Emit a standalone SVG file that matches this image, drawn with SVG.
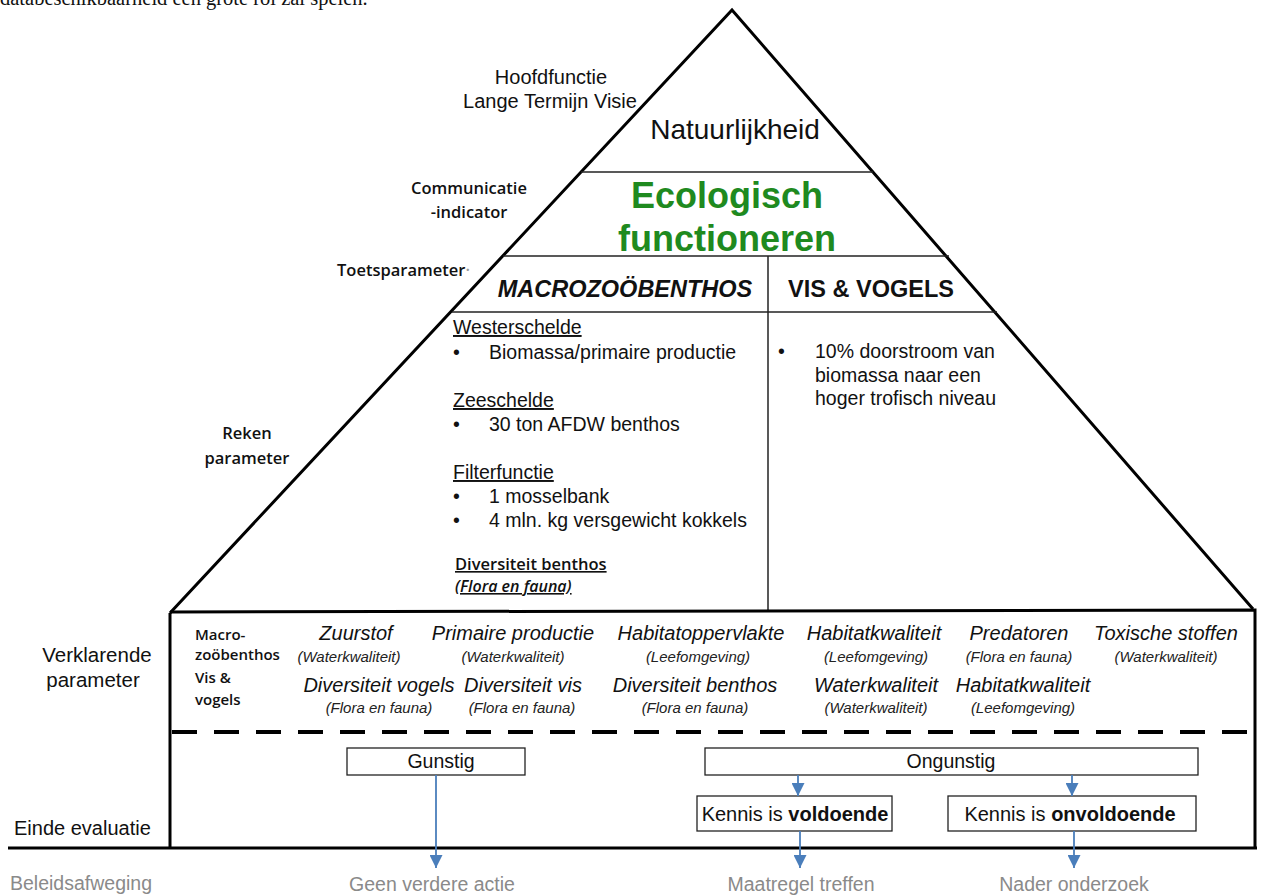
<svg xmlns="http://www.w3.org/2000/svg" width="1262" height="895" viewBox="0 0 1262 895">
<style>
.s{font-family:"Liberation Sans",Arial,sans-serif;fill:#111}
.c{font-family:"Open Sans","Liberation Sans",sans-serif;font-weight:600;fill:#111}
.m{text-anchor:middle}
.it{font-style:italic}
.b{font-size:19.5px}
.sub{font-family:"Liberation Sans",Arial,sans-serif;font-style:italic;font-size:15px;fill:#222;text-anchor:middle}
.par{font-family:"Liberation Sans",Arial,sans-serif;font-style:italic;font-size:20px;fill:#111;text-anchor:middle}
.g{font-family:"Liberation Sans",Arial,sans-serif;font-size:19.5px;fill:#8a8a8a;text-anchor:middle}
.out{fill:none;stroke:#000;stroke-width:3;stroke-linejoin:miter}
.in{fill:none;stroke:#222;stroke-width:1.5}
.bx{fill:#fff;stroke:#222;stroke-width:1.3}
.ar{stroke:#4a7ebb;stroke-width:1.8;fill:none}
</style>
<defs>
<marker id="ad" markerWidth="13" markerHeight="13" refX="6.5" refY="13" orient="0" markerUnits="userSpaceOnUse" viewBox="0 0 13 13">
<path d="M0,0 L13,0 L6.5,13 z" fill="#4a7ebb"/>
</marker>
</defs>
<rect width="1262" height="895" fill="#fff"/>
<text x="0" y="5" style="font-family:'Liberation Serif','Times New Roman',serif;font-size:20.5px;fill:#111">databeschikbaarheid een grote rol zal spelen.</text>

<g id="pyramid">
<path class="out" d="M170,613 L732,10 L1253,609"/>
<line class="in" x1="581" y1="172" x2="873" y2="172"/>
<line class="in" x1="503" y1="256" x2="949" y2="256"/>
<line class="in" x1="452" y1="312" x2="997" y2="312"/>
<line class="in" x1="768" y1="256" x2="768" y2="611"/>
</g>

<g id="labels-left">
<text class="s m" x="551" y="84" font-size="20" fill="#333">Hoofdfunctie</text>
<text class="s m" x="550" y="108" font-size="20" fill="#333">Lange Termijn Visie</text>
<text class="c m" x="469" y="194" font-size="16.5">Communicatie</text>
<text class="c m" x="469" y="218" font-size="16.5">-indicator</text>
<text class="c" x="337" y="276" font-size="16.5">Toetsparameter<tspan fill="#999">·</tspan></text>
<text class="c m" x="247" y="439" font-size="16.5">Reken</text>
<text class="c m" x="247" y="464" font-size="16.5">parameter</text>
<text class="s m" x="97" y="662" font-size="20.5">Verklarende</text>
<text class="s m" x="93" y="687" font-size="20.5">parameter</text>
<text class="s" x="14" y="835" font-size="20">Einde evaluatie</text>
<text class="g" x="10" y="890" style="text-anchor:start">Beleidsafweging</text>
</g>

<g id="natuurlijkheid">
<text class="s m" x="735" y="139" font-size="28">Natuurlijkheid</text>
</g>
<g id="ecologisch">
<text class="s m" x="727" y="208" font-size="36" font-weight="bold" style="fill:#1f8a1f">Ecologisch</text>
<text class="s m" x="727" y="251" font-size="36" font-weight="bold" style="fill:#1f8a1f">functioneren</text>
</g>
<g id="macrozoobenthos">
<text class="s m it" x="625" y="297" font-size="23.5" font-weight="bold">MACROZOÖBENTHOS</text>
<text class="s b" x="453" y="334" text-decoration="underline">Westerschelde</text>
<text class="s b" x="453" y="359">•</text>
<text class="s b" x="489" y="359">Biomassa/primaire productie</text>
<text class="s b" x="453" y="407" text-decoration="underline">Zeeschelde</text>
<text class="s b" x="453" y="431">•</text>
<text class="s b" x="489" y="431">30 ton AFDW benthos</text>
<text class="s b" x="453" y="479" text-decoration="underline">Filterfunctie</text>
<text class="s b" x="453" y="503">•</text>
<text class="s b" x="489" y="503">1 mosselbank</text>
<text class="s b" x="453" y="527">•</text>
<text class="s b" x="489" y="527">4 mln. kg versgewicht kokkels</text>
<text class="c" x="455" y="570" font-size="16.5" text-decoration="underline">Diversiteit benthos</text>
<text class="c it" x="455" y="592" font-size="16" text-decoration="underline">(Flora en fauna)</text>
</g>
<g id="vis-vogels">
<text class="s m" x="871" y="297" font-size="23.5" font-weight="bold">VIS &amp; VOGELS</text>
<text class="s b" x="778" y="358">•</text>
<text class="s b" x="815" y="358">10% doorstroom van</text>
<text class="s b" x="815" y="382">biomassa naar een</text>
<text class="s b" x="815" y="405">hoger trofisch niveau</text>
</g>

<g id="verklarende-box">
<path class="out" d="M8,848 L1257,848 M170,613 L170,848 M170,612 L1255,610 L1255,848"/>
<line x1="172" y1="732" x2="1253" y2="732" stroke="#000" stroke-width="4" stroke-dasharray="25 17"/>
<text class="c" x="195" y="640" font-size="15">Macro-</text>
<text class="c" x="195" y="660" font-size="15">zoöbenthos</text>
<text class="c" x="195" y="683" font-size="15">Vis &amp;</text>
<text class="c" x="195" y="705" font-size="15">vogels</text>
<text class="par" x="356" y="640">Zuurstof</text>
<text class="sub" x="349" y="662">(Waterkwaliteit)</text>
<text class="par" x="513" y="640">Primaire productie</text>
<text class="sub" x="513" y="662">(Waterkwaliteit)</text>
<text class="par" x="701" y="640">Habitatoppervlakte</text>
<text class="sub" x="698" y="662">(Leefomgeving)</text>
<text class="par" x="874" y="640">Habitatkwaliteit</text>
<text class="sub" x="876" y="662">(Leefomgeving)</text>
<text class="par" x="1019" y="640">Predatoren</text>
<text class="sub" x="1019" y="662">(Flora en fauna)</text>
<text class="par" x="1166" y="640">Toxische stoffen</text>
<text class="sub" x="1166" y="662">(Waterkwaliteit)</text>
<text class="par" x="379" y="692">Diversiteit vogels</text>
<text class="sub" x="379" y="713">(Flora en fauna)</text>
<text class="par" x="523" y="692">Diversiteit vis</text>
<text class="sub" x="522" y="713">(Flora en fauna)</text>
<text class="par" x="695" y="692">Diversiteit benthos</text>
<text class="sub" x="695" y="713">(Flora en fauna)</text>
<text class="par" x="876" y="692">Waterkwaliteit</text>
<text class="sub" x="876" y="713">(Waterkwaliteit)</text>
<text class="par" x="1023" y="692">Habitatkwaliteit</text>
<text class="sub" x="1023" y="713">(Leefomgeving)</text>
</g>

<g id="gunstig">
<rect class="bx" x="347" y="748" width="178" height="27"/>
<text class="s m" x="441" y="768" font-size="19.5">Gunstig</text>
</g>
<g id="ongunstig">
<rect class="bx" x="705" y="748" width="493" height="27"/>
<text class="s m" x="951" y="768" font-size="19.5">Ongunstig</text>
</g>
<g id="voldoende">
<rect class="bx" x="697" y="796" width="195" height="35"/>
<text class="s m" x="795" y="821" font-size="20">Kennis is <tspan font-weight="bold">voldoende</tspan></text>
</g>
<g id="onvoldoende">
<rect class="bx" x="948" y="796" width="248" height="35"/>
<text class="s m" x="1070" y="821" font-size="20">Kennis is <tspan font-weight="bold">onvoldoende</tspan></text>
</g>
<g id="geen-actie"><text class="g" x="432" y="891">Geen verdere actie</text></g>
<g id="maatregel"><text class="g" x="801" y="891">Maatregel treffen</text></g>
<g id="nader"><text class="g" x="1074" y="891">Nader onderzoek</text></g>

<g id="connectors">
<line class="ar" x1="436" y1="775" x2="436" y2="868" marker-end="url(#ad)"/>
<line class="ar" x1="798" y1="775" x2="798" y2="796" marker-end="url(#ad)"/>
<line class="ar" x1="1072" y1="775" x2="1072" y2="796" marker-end="url(#ad)"/>
<line class="ar" x1="800" y1="831" x2="800" y2="868" marker-end="url(#ad)"/>
<line class="ar" x1="1074" y1="831" x2="1074" y2="868" marker-end="url(#ad)"/>
</g>
</svg>
